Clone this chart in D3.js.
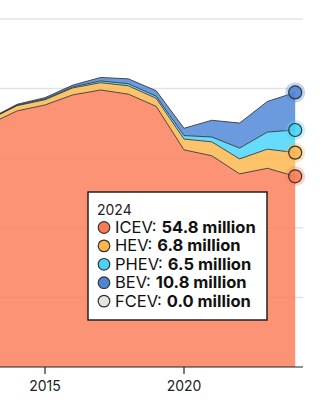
<!DOCTYPE html>
<html>
<head>
<meta charset="utf-8">
<script src="https://cdn.jsdelivr.net/npm/d3@7"></script>
<style>
  body { margin: 0; background: #fff; }
  svg { display: block; font-family: Inter, "Open Sans", sans-serif; }
</style>
</head>
<body>
<div id="chart"></div>
<script>
// yearly sales, million vehicles
var years = [2013, 2014, 2015, 2016, 2017, 2018, 2019, 2020, 2021, 2022, 2023, 2024];
var icev  = [69.8, 73.6, 75.3, 78.2, 79.6, 78.4, 74.9, 62.4, 60.7, 55.5, 57.1, 54.8];
var hev   = [1.3, 1.5, 1.5, 2.0, 2.1, 2.4, 2.3, 3.1, 4.0, 4.3, 5.5, 6.8];
var phev  = [0.1, 0.15, 0.25, 0.3, 0.5, 0.6, 0.6, 1.0, 1.4, 3.1, 4.9, 6.5];
var bev   = [0.1, 0.25, 0.35, 0.5, 1.0, 1.4, 1.6, 2.1, 4.8, 7.2, 8.8, 10.8];
var fcev  = [0, 0, 0, 0, 0, 0, 0, 0, 0, 0, 0, 0];
var seriesNames = ["ICEV", "HEV", "PHEV", "BEV", "FCEV"];
var colors = ["#fa7b56", "#fdb64a", "#45d3fa", "#4c84d8", "#e4e4e4"];
var xTicks = [2015, 2020];
var yTicks = [20, 40, 60, 80, 100];

var width = 329, height = 418;

var svg = d3.select("#chart").append("svg")
  .attr("width", width)
  .attr("height", height);

var x = d3.scaleLinear().domain([2015, 2020]).range([45, 184]);
var y = d3.scaleLinear().domain([0, 100]).range([367, 19]);

var rows = years.map(function(yr, i) {
  return { year: yr, ICEV: icev[i], HEV: hev[i], PHEV: phev[i], BEV: bev[i], FCEV: fcev[i] };
});
var stack = d3.stack().keys(seriesNames);
var layers = stack(rows);

// gridlines (under the see-through areas)
svg.append("g").selectAll("line")
  .data(yTicks)
  .enter().append("line")
  .attr("x1", 0).attr("x2", 303)
  .attr("y1", d => y(d)).attr("y2", d => y(d))
  .attr("stroke", "#e3e3e3")
  .attr("stroke-width", 1.5);

var area = d3.area()
  .x(d => x(d.data.year))
  .y0(d => y(d[0]))
  .y1(d => y(d[1]));
var topLine = d3.line()
  .x(d => x(d.data.year))
  .y(d => y(d[1]));

svg.append("g").selectAll("path")
  .data(layers)
  .enter().append("path")
  .attr("d", area)
  .attr("fill", (d, i) => colors[i])
  .attr("fill-opacity", 0.82);

svg.append("g").selectAll("path")
  .data(layers.slice(0, 4))
  .enter().append("path")
  .attr("d", topLine)
  .attr("fill", "none")
  .attr("stroke", "#333")
  .attr("stroke-opacity", 0.85)
  .attr("stroke-width", 1);

// end markers for the last year
var last = layers.slice(0, 4).map(function(l, i) {
  return { v: l[l.length - 1][1], yr: years[years.length - 1], c: colors[i] };
});
var marks = svg.append("g").selectAll("g")
  .data(last)
  .enter().append("g");
marks.append("circle")
  .attr("cx", d => x(d.yr)).attr("cy", d => y(d.v))
  .attr("r", 10)
  .attr("fill", d => d.c)
  .attr("fill-opacity", 0.35);
marks.append("circle")
  .attr("cx", d => x(d.yr)).attr("cy", d => y(d.v))
  .attr("r", 6.5)
  .attr("fill", d => d.c)
  .attr("fill-opacity", 0.85)
  .attr("stroke", "#333")
  .attr("stroke-width", 1.2);

// x axis
var xAxis = svg.append("g")
  .attr("transform", "translate(0,367)");
xAxis.append("line")
  .attr("x1", 0).attr("x2", 303)
  .attr("stroke", "#222").attr("stroke-width", 1.2);
xAxis.selectAll(".tick")
  .data(xTicks)
  .enter().append("line")
  .attr("x1", d => x(d)).attr("x2", d => x(d))
  .attr("y1", 0).attr("y2", 7)
  .attr("stroke", "#222").attr("stroke-width", 1.2);
xAxis.selectAll("text")
  .data(xTicks)
  .enter().append("text")
  .attr("x", d => x(d))
  .attr("y", 24)
  .attr("text-anchor", "middle")
  .attr("font-size", 14)
  .attr("fill", "#222")
  .text(d => d);

// legend box
var lg = svg.append("g").attr("transform", "translate(88,192)");
lg.append("rect")
  .attr("width", 179).attr("height", 128)
  .attr("fill", "#fff")
  .attr("stroke", "#222").attr("stroke-width", 1.5);
lg.append("text")
  .attr("x", 9).attr("y", 23)
  .attr("font-size", 14)
  .attr("fill", "#222")
  .text(years[years.length - 1]);
var lastVals = [icev, hev, phev, bev, fcev].map(a => a[a.length - 1]);
var item = lg.selectAll(".item")
  .data(seriesNames)
  .enter().append("g")
  .attr("transform", (d, i) => "translate(0," + (41 + i * 18.4) + ")");
item.append("circle")
  .attr("cx", 16).attr("cy", -5.5)
  .attr("r", 5.8)
  .attr("fill", (d, i) => colors[i])
  .attr("stroke", "#333").attr("stroke-width", 1.2);
var lab = item.append("text")
  .attr("x", 27).attr("y", 0)
  .attr("font-size", 16.5)
  .attr("fill", "#111")
  .text(d => d + ":");
item.each(function(d, i) {
  var w = d3.select(this).select("text").node().getComputedTextLength();
  d3.select(this).append("text")
    .attr("x", 27 + w + 5).attr("y", 0)
    .attr("font-size", 16.5)
    .attr("font-weight", "bold")
    .attr("fill", "#111")
    .text(lastVals[i].toFixed(1) + " million");
});
</script>
</body>
</html>
